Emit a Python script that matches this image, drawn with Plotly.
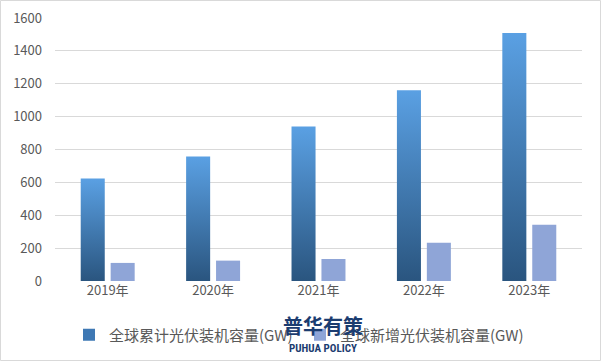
import plotly.graph_objects as go

categories = ["2019年", "2020年", "2021年", "2022年", "2023年"]
cumulative = [623, 757, 940, 1160, 1508]
new_added = [110, 124, 134, 232, 342]
series_names = ["全球累计光伏装机容量(GW)", "全球新增光伏装机容量(GW)"]
y_ticks = [0, 200, 400, 600, 800, 1000, 1200, 1400, 1600]

W, H = 601, 361
ML, MR, MT, MB = 55, 19, 18, 80
plot_w = W - ML - MR
plot_h = H - MT - MB

bar_w = 0.228
half_gap = 0.028
top_col = "#5AA0E3"
bot_col = "#2A557F"
new_col = "#8FA5D7"
text_col = "#595959"
font_fam = "Noto Sans CJK SC, Liberation Sans, sans-serif"

fig = go.Figure()

# cumulative bars with vertical gradient (polygon per bar derived from data)
for i, v in enumerate(cumulative):
    x0 = i - half_gap - bar_w
    x1 = i - half_gap
    fig.add_trace(go.Scatter(
        x=[x0, x1, x1, x0, x0], y=[0, 0, v, v, 0],
        mode="lines", line=dict(width=0), fill="toself",
        fillgradient=dict(type="vertical", colorscale=[[0, bot_col], [1, top_col]], start=0, stop=v),
        showlegend=False, hoverinfo="skip",
    ))

fig.add_trace(go.Bar(
    x=list(range(len(categories))), y=new_added, width=bar_w, offset=half_gap,
    marker=dict(color=new_col, line=dict(width=0)), showlegend=False, name=series_names[1],
))

# legend entries
fig.add_trace(go.Scatter(x=[None], y=[None], mode="markers", name=series_names[0],
                         marker=dict(symbol="square", size=8, color="#3E78B4")))
fig.add_trace(go.Scatter(x=[None], y=[None], mode="markers", name=series_names[1],
                         marker=dict(symbol="square", size=8, color=new_col)))

fig.update_layout(
    width=W, height=H, margin=dict(l=ML, r=MR, t=MT, b=MB, autoexpand=False),
    paper_bgcolor="white", plot_bgcolor="white",
    font=dict(family=font_fam, color=text_col, size=13),
    xaxis=dict(range=[-0.5, len(categories) - 0.5], tickvals=list(range(len(categories))),
               ticktext=categories, showgrid=False, zeroline=False, showline=False,
               tickfont=dict(size=13, color=text_col), ticks="", automargin=False),
    yaxis=dict(range=[0, 1600], tickvals=y_ticks, showgrid=True, gridcolor="#D9D9D9",
               gridwidth=1, zeroline=False, showline=False, ticks="", automargin=False,
               tickfont=dict(size=13, color=text_col), ticklabelstandoff=12),
    legend=dict(orientation="h", x=(69 - ML) / plot_w, xanchor="left",
                y=(MT + plot_h - 335) / plot_h, yanchor="middle",
                font=dict(size=15, color=text_col), entrywidth=186, entrywidthmode="pixels",
                itemwidth=30, itemsizing="constant", bgcolor="rgba(0,0,0,0)"),
    showlegend=True,
)

# outer border
fig.add_shape(type="rect", xref="paper", yref="paper",
              x0=(0.5 - ML) / plot_w, x1=(W - 0.5 - ML) / plot_w,
              y0=-(MB - 0.5) / plot_h, y1=1 + (MT - 0.5) / plot_h,
              line=dict(color="#D9D9D9", width=1))

# watermark logo text
fig.add_annotation(xref="paper", yref="paper", x=(323 - ML) / plot_w, y=(MT + plot_h - 325) / plot_h,
                   text="<b>普华有策</b>", showarrow=False, xanchor="center", yanchor="middle",
                   font=dict(size=20, color="#1B3C70", family=font_fam))
fig.add_annotation(xref="paper", yref="paper", x=(323 - ML) / plot_w, y=(MT + plot_h - 348) / plot_h,
                   text="<b>PUHUA POLICY</b>", showarrow=False, xanchor="center", yanchor="middle",
                   font=dict(size=11, color="#1B3C70", family="Roboto Condensed, Liberation Sans Narrow, Liberation Sans, sans-serif"))

fig.write_html("out.html", config={"displayModeBar": False},
               post_script="document.body.style.margin='0';")
